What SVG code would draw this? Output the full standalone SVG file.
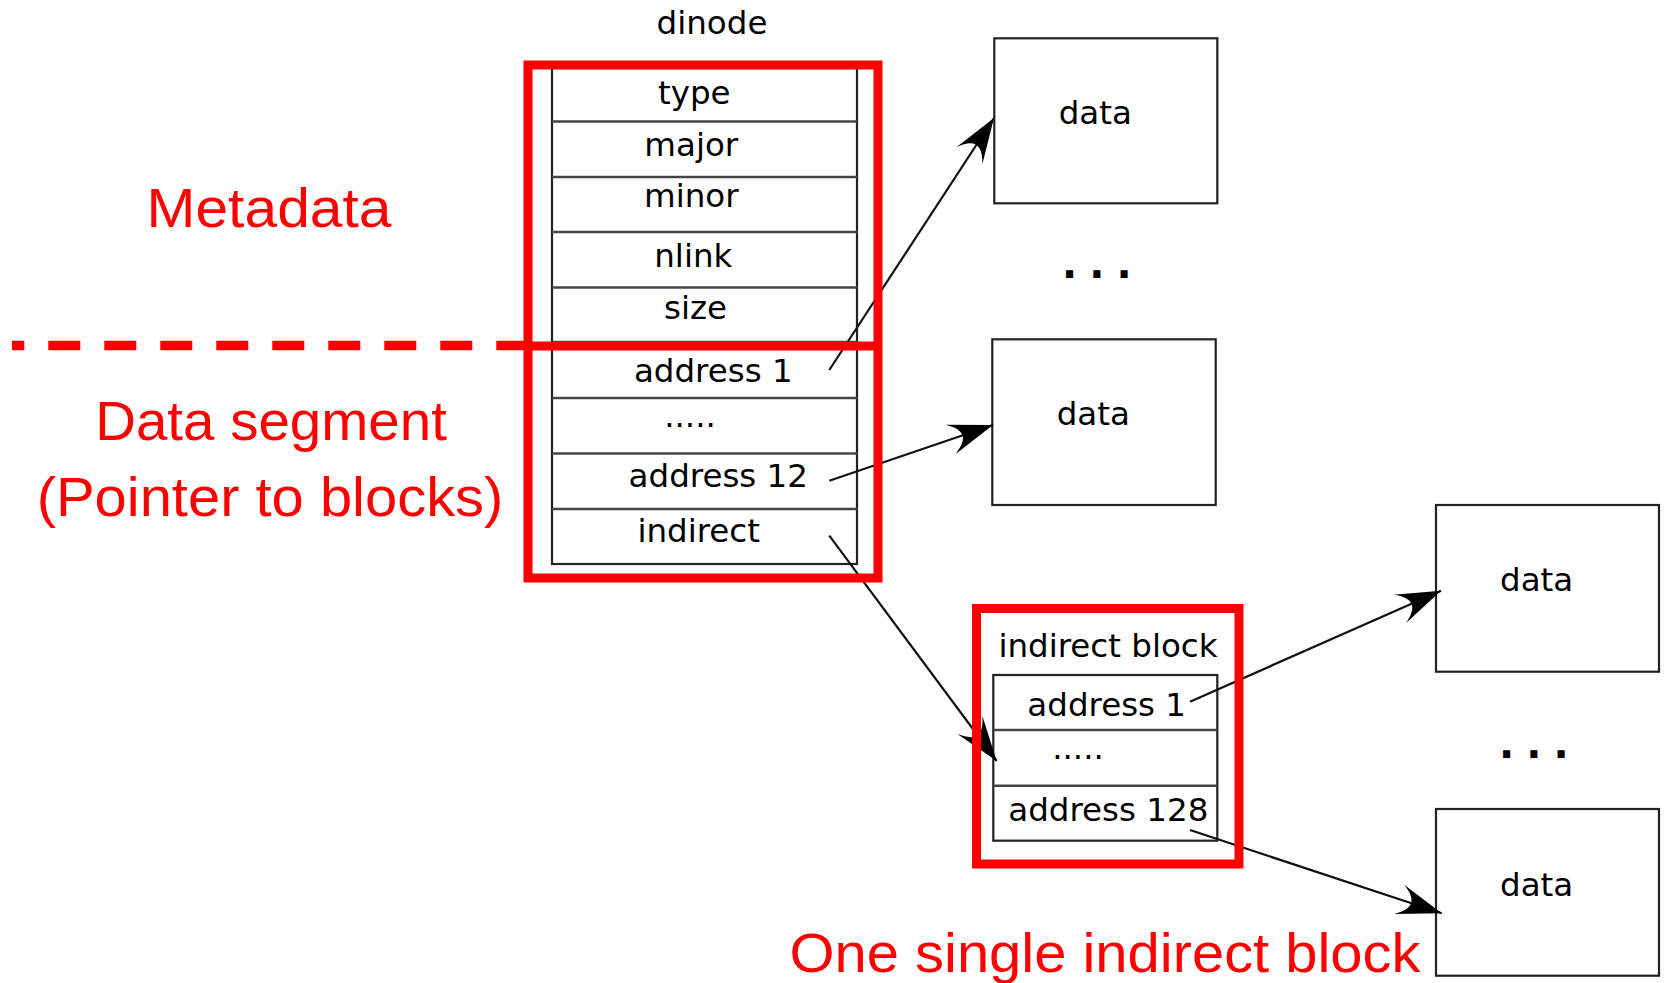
<svg xmlns="http://www.w3.org/2000/svg" width="1665" height="983" viewBox="0 0 1665 983">
<style>
.t{font-family:"DejaVu Sans",sans-serif;font-size:32.5px;fill:#000;text-anchor:middle}
.r{font-family:"Liberation Sans",Arial,sans-serif;font-size:56px;fill:#ff0000;text-anchor:middle}
.box{fill:#fff;stroke:#222;stroke-width:2.2}
.sep{stroke:#444;stroke-width:2.4}
.red{fill:none;stroke:#ff0000;stroke-width:9}
.con{fill:none;stroke:#111;stroke-width:2.2}
.dots{font-family:"DejaVu Sans",sans-serif;font-weight:bold;font-size:40px;fill:#000;letter-spacing:12px}
</style>
<defs>
<marker id="ah" markerUnits="userSpaceOnUse" orient="auto" markerWidth="60" markerHeight="40" refX="0" refY="0" viewBox="-50 -20 60 40" overflow="visible">
<path d="M0,0 L-45,-15.5 C-28,-5 -28,5 -45,15.5 Z" fill="#000"/>
</marker>
</defs>
<rect width="1665" height="983" fill="#fff"/>

<g id="dinode">
<text class="t" x="712" y="34">dinode</text>
<rect class="box" x="552" y="68" width="305" height="496"/>
<line class="sep" x1="552" y1="121.5" x2="857" y2="121.5"/>
<line class="sep" x1="552" y1="177" x2="857" y2="177"/>
<line class="sep" x1="552" y1="232" x2="857" y2="232"/>
<line class="sep" x1="552" y1="287.5" x2="857" y2="287.5"/>
<line class="sep" x1="552" y1="342" x2="857" y2="342"/>
<line class="sep" x1="552" y1="398" x2="857" y2="398"/>
<line class="sep" x1="552" y1="453.5" x2="857" y2="453.5"/>
<line class="sep" x1="552" y1="509" x2="857" y2="509"/>
<text class="t" x="694.3" y="104">type</text>
<text class="t" x="691.3" y="156">major</text>
<text class="t" x="691.3" y="207.3">minor</text>
<text class="t" x="693.3" y="266.7">nlink</text>
<text class="t" x="695.5" y="319.3">size</text>
<text class="t" x="713.3" y="382.3">address 1</text>
<text class="t" x="690" y="427">.....</text>
<text class="t" x="718.3" y="487.3">address 12</text>
<text class="t" x="698.7" y="541.7">indirect</text>
</g>

<g id="indirect-block">
<text class="t" x="1108" y="656.7">indirect block</text>
<rect class="box" x="993.3" y="675" width="224" height="165.7"/>
<line class="sep" x1="993.3" y1="730" x2="1217.3" y2="730"/>
<line class="sep" x1="993.3" y1="785.7" x2="1217.3" y2="785.7"/>
<text class="t" x="1106.7" y="716">address 1</text>
<text class="t" x="1078" y="759">.....</text>
<text class="t" x="1108.3" y="820.7">address 128</text>
</g>

<g id="data1">
<rect class="box" x="994.3" y="38.3" width="223" height="165"/>
<text class="t" x="1095.3" y="124">data</text>
</g>
<g id="data2">
<rect class="box" x="992.3" y="339.3" width="223.4" height="165.7"/>
<text class="t" x="1093.3" y="425">data</text>
</g>
<g id="data3">
<rect class="box" x="1436" y="505" width="223" height="166.7"/>
<text class="t" x="1536.7" y="590.7">data</text>
</g>
<g id="data4">
<rect class="box" x="1436" y="809" width="223" height="166.7"/>
<text class="t" x="1536.7" y="896">data</text>
</g>

<text class="dots" x="1062" y="278">...</text>
<text class="dots" x="1499" y="758">...</text>

<g id="connectors">
<line class="con" x1="829.3" y1="370" x2="994" y2="118" marker-end="url(#ah)"/>
<line class="con" x1="829.3" y1="480.7" x2="993" y2="425" marker-end="url(#ah)"/>
<line class="con" x1="829.3" y1="535.7" x2="996.7" y2="761" marker-end="url(#ah)"/>
<line class="con" x1="1190" y1="701.7" x2="1441" y2="590.7" marker-end="url(#ah)"/>
<line class="con" x1="1190" y1="830" x2="1441.7" y2="913.3" marker-end="url(#ah)"/>
</g>

<g id="annotations">
<rect class="red" x="528" y="65" width="350" height="513"/>
<line class="red" x1="528" y1="346" x2="878" y2="346"/>
<line stroke="#ff0000" stroke-width="9.5" stroke-dasharray="32 24" stroke-dashoffset="19.7" x1="12" y1="345.5" x2="528" y2="345.5"/>
<rect class="red" x="976.5" y="608.5" width="262.5" height="255.5"/>
<text class="r" x="269" y="226.7" textLength="245" lengthAdjust="spacingAndGlyphs">Metadata</text>
<text class="r" x="271" y="440" textLength="351.7" lengthAdjust="spacingAndGlyphs">Data segment</text>
<text class="r" x="270" y="515.5" textLength="466.7" lengthAdjust="spacingAndGlyphs">(Pointer to blocks)</text>
<text class="r" x="1105" y="971.6" textLength="631" lengthAdjust="spacingAndGlyphs">One single indirect block</text>
</g>
</svg>
